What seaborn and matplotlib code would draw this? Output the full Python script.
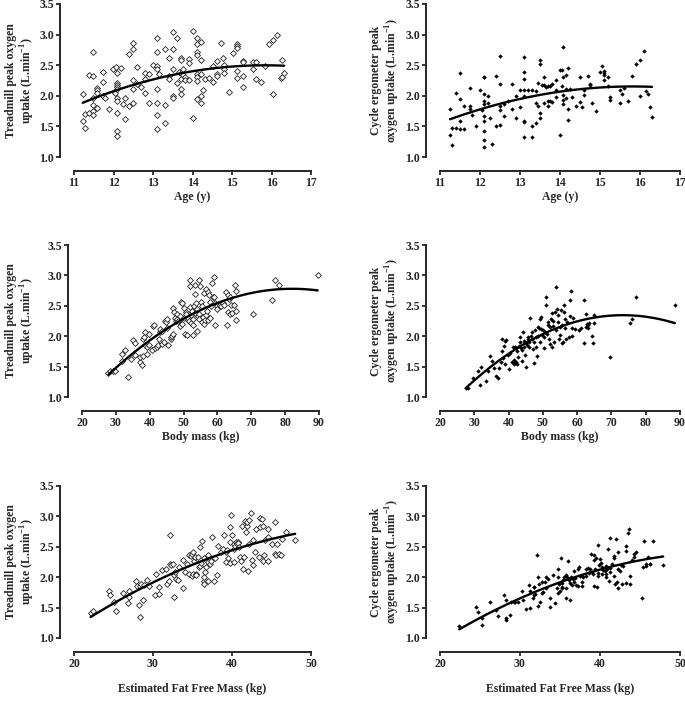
import matplotlib
matplotlib.use("Agg")
import matplotlib.pyplot as plt
import seaborn as sns

# ---- data ----
# Age vs treadmill peak VO2
age_tm = [11.22, 11.22, 11.27, 11.47, 11.37, 11.47, 11.47, 11.47, 11.27, 11.37,
          11.47, 11.47, 11.57, 11.57, 11.57, 11.57, 11.73, 11.73, 11.73, 11.78,
          11.88, 11.98, 12.03, 12.06, 12.08, 12.08, 12.08, 12.08, 12.08, 12.08,
          12.08, 12.08, 12.08, 12.08, 12.18, 12.23, 12.28, 12.28, 12.38, 12.38,
          12.49, 12.49, 12.49, 12.49, 12.49, 12.59, 12.59, 12.69, 12.79, 12.79,
          12.79, 12.89, 12.89, 12.99, 13.09, 13.09, 13.09, 13.09, 13.09, 13.09,
          13.09, 13.09, 13.14, 13.30, 13.30, 13.30, 13.40, 13.40, 13.40, 13.50,
          13.50, 13.50, 13.50, 13.50, 13.60, 13.60, 13.65, 13.70, 13.70, 13.70,
          13.70, 13.70, 13.70, 13.75, 13.75, 13.80, 13.80, 13.90, 13.90, 13.90,
          14.00, 14.00, 14.11, 14.11, 14.11, 14.11, 14.11, 14.11, 14.11, 14.11,
          14.21, 14.21, 14.21, 14.21, 14.21, 14.26, 14.31, 14.41, 14.51, 14.51,
          14.61, 14.61, 14.61, 14.71, 14.76, 14.81, 14.81, 14.81, 14.92, 15.02,
          15.12, 15.12, 15.12, 15.12, 15.12, 15.27, 15.27, 15.27, 15.27, 15.52,
          15.52, 15.62, 15.62, 15.73, 15.83, 15.93, 16.03, 16.03, 16.13, 16.23,
          16.27, 16.27, 16.32]
tm_age = [2.03, 1.59, 1.47, 2.71, 2.34, 2.33, 1.97, 1.85, 1.71, 1.72,
          1.75, 1.68, 1.80, 2.12, 2.09, 2.05, 2.39, 2.22, 1.99, 1.96,
          1.78, 2.43, 2.05, 2.47, 2.37, 2.21, 2.18, 2.14, 2.11, 1.97,
          1.92, 1.72, 1.42, 1.35, 2.46, 1.87, 1.97, 1.62, 2.68, 1.84,
          2.87, 2.76, 2.25, 2.11, 1.88, 2.47, 2.19, 2.14, 2.37, 2.27,
          2.05, 2.35, 1.88, 2.51, 2.95, 2.72, 2.49, 2.43, 2.11, 1.89,
          1.69, 1.46, 2.35, 2.76, 1.85, 1.56, 2.62, 2.33, 2.27, 3.04,
          2.76, 2.44, 1.99, 1.97, 2.94, 2.21, 2.39, 2.61, 2.59, 2.37,
          2.27, 2.11, 2.03, 2.43, 2.34, 2.30, 2.26, 2.60, 2.54, 2.25,
          3.06, 1.64, 2.95, 2.84, 2.71, 2.67, 2.36, 2.31, 2.24, 1.95,
          2.88, 2.58, 2.35, 1.99, 1.89, 2.09, 2.27, 2.29, 2.49, 2.22,
          2.57, 2.35, 2.33, 2.86, 2.62, 2.50, 2.43, 2.38, 2.07, 2.70,
          2.84, 2.81, 2.78, 2.41, 2.29, 2.57, 2.55, 2.33, 2.14, 2.55,
          2.43, 2.55, 2.27, 2.22, 2.49, 2.84, 2.91, 2.03, 2.99, 2.29,
          2.59, 2.30, 2.37]

# Age vs cycle ergometer peak VO2
age_cy = [11.25, 11.25, 11.30, 11.30, 11.40, 11.40, 11.50, 11.50, 11.50, 11.50,
          11.60, 11.60, 11.75, 11.75, 11.75, 11.80, 11.90, 12.00, 12.05, 12.10,
          12.10, 12.10, 12.10, 12.10, 12.10, 12.10, 12.10, 12.10, 12.10, 12.20,
          12.20, 12.25, 12.30, 12.40, 12.40, 12.50, 12.50, 12.50, 12.50, 12.50,
          12.60, 12.60, 12.70, 12.80, 12.80, 12.90, 12.90, 13.00, 13.00, 13.10,
          13.10, 13.10, 13.10, 13.10, 13.10, 13.10, 13.10, 13.20, 13.30, 13.30,
          13.30, 13.40, 13.40, 13.40, 13.45, 13.45, 13.50, 13.50, 13.50, 13.50,
          13.55, 13.60, 13.60, 13.60, 13.65, 13.70, 13.70, 13.70, 13.75, 13.75,
          13.80, 13.80, 13.90, 13.90, 13.90, 14.00, 14.00, 14.05, 14.05, 14.08,
          14.08, 14.08, 14.08, 14.08, 14.15, 14.15, 14.15, 14.20, 14.20, 14.20,
          14.25, 14.30, 14.40, 14.50, 14.50, 14.55, 14.60, 14.60, 14.70, 14.75,
          14.75, 14.80, 14.90, 15.00, 15.05, 15.10, 15.10, 15.10, 15.10, 15.20,
          15.20, 15.25, 15.25, 15.50, 15.50, 15.55, 15.60, 15.70, 15.80, 15.90,
          16.00, 16.00, 16.10, 16.15, 16.20, 16.25, 16.30]
cy_age = [1.78, 1.36, 1.47, 1.19, 2.05, 1.48, 2.38, 1.95, 1.59, 1.45,
          1.84, 1.45, 2.12, 1.83, 1.78, 1.69, 1.51, 2.09, 1.77, 2.31,
          2.30, 2.03, 1.92, 1.86, 1.67, 1.59, 1.43, 1.28, 1.17, 2.00,
          1.88, 1.63, 1.21, 2.32, 1.51, 2.65, 2.19, 1.83, 1.76, 1.52,
          1.86, 1.67, 1.92, 2.19, 1.79, 2.00, 1.63, 2.09, 1.81, 2.63,
          2.39, 2.28, 2.09, 2.00, 1.59, 1.58, 1.33, 2.10, 2.10, 1.51,
          1.32, 2.08, 1.89, 1.56, 2.21, 1.83, 1.72, 1.64, 2.58, 2.52,
          2.17, 2.30, 2.17, 1.89, 2.14, 2.16, 1.92, 1.84, 2.16, 1.92,
          2.20, 1.90, 2.26, 2.10, 1.98, 2.42, 1.36, 2.42, 2.16, 2.80,
          2.30, 2.01, 1.93, 1.86, 2.34, 2.11, 1.96, 2.45, 1.79, 1.61,
          2.11, 1.98, 1.83, 2.30, 1.90, 1.82, 2.10, 2.01, 2.32, 2.19,
          2.17, 1.88, 1.75, 2.39, 2.49, 2.41, 2.38, 2.34, 2.26, 2.30,
          2.16, 1.98, 1.93, 2.09, 1.89, 2.03, 2.13, 1.91, 2.33, 2.52,
          2.59, 2.00, 2.73, 2.08, 2.03, 1.81, 1.65]

# Body mass vs treadmill peak VO2
mass_tm = [27.8, 28.3, 29.1, 29.8, 31.7, 31.7, 32.7, 33.7, 34.4, 35.0,
           35.6, 35.8, 37.0, 37.2, 37.7, 37.9, 38.1, 38.3, 38.5, 38.7,
           39.1, 39.3, 39.7, 39.9, 40.6, 40.9, 41.3, 41.7, 42.1, 42.3,
           42.6, 42.9, 43.1, 43.5, 43.7, 44.1, 44.6, 44.9, 45.0, 45.2,
           45.5, 46.2, 46.4, 46.6, 46.8, 47.0, 47.2, 47.5, 47.8, 48.0,
           48.2, 48.5, 48.8, 49.0, 49.2, 49.4, 49.6, 50.0, 50.2, 50.4,
           50.6, 50.8, 51.0, 51.2, 51.4, 51.6, 51.8, 51.8, 52.0, 52.2,
           52.3, 52.5, 52.7, 52.9, 52.9, 53.1, 53.3, 53.5, 53.5, 53.7,
           53.9, 54.1, 54.3, 54.5, 54.7, 54.7, 54.9, 55.1, 55.3, 55.5,
           55.7, 55.9, 56.1, 56.3, 56.5, 56.7, 56.9, 57.1, 57.3, 57.5,
           57.7, 57.9, 58.1, 58.5, 58.7, 58.9, 59.1, 59.3, 59.4, 59.8,
           60.0, 60.8, 61.2, 61.6, 62.0, 62.6, 62.8, 63.0, 63.2, 63.4,
           63.6, 63.8, 64.0, 64.2, 64.8, 65.2, 65.4, 65.6, 65.6, 70.5,
           76.2, 77.0, 78.2, 89.6]
tm_mass = [1.39, 1.43, 1.43, 1.43, 1.70, 1.59, 1.77, 1.33, 1.62, 1.94,
           1.88, 1.69, 1.57, 1.65, 1.53, 1.68, 1.95, 1.98, 2.07, 1.86,
           1.70, 1.83, 2.04, 1.86, 1.77, 2.16, 2.19, 1.80, 1.83, 1.86,
           1.95, 2.07, 2.12, 2.08, 1.87, 1.91, 2.25, 2.23, 2.28, 2.13,
           1.86, 1.96, 1.99, 2.01, 2.04, 2.46, 2.40, 2.30, 2.25, 2.28,
           2.37, 2.25, 2.16, 2.34, 2.57, 2.20, 2.55, 2.46, 2.30, 2.04,
           2.40, 2.36, 2.02, 2.27, 2.30, 2.25, 2.48, 2.83, 2.93, 2.35,
           2.22, 2.42, 2.28, 2.18, 2.02, 2.50, 2.38, 2.70, 2.84, 2.55,
           2.08, 2.45, 2.34, 2.37, 2.93, 2.28, 2.83, 2.57, 2.24, 2.49,
           2.31, 2.71, 2.20, 2.27, 2.35, 2.77, 2.42, 2.26, 2.72, 2.67,
           2.30, 2.57, 2.50, 2.88, 2.64, 2.97, 2.65, 2.55, 2.19, 2.50,
           2.45, 2.52, 2.50, 2.54, 2.51, 2.73, 2.19, 2.67, 2.39, 2.62,
           2.37, 2.64, 2.51, 2.38, 2.52, 2.84, 2.42, 2.27, 2.74, 2.37,
           2.60, 2.92, 2.85, 3.01]

# Body mass vs cycle ergometer peak VO2
mass_cy = [27.5, 28.1, 29.6, 31.0, 31.8, 32.1, 33.5, 33.9, 34.7, 35.3,
           35.8, 36.4, 37.0, 37.2, 37.7, 38.0, 38.2, 38.4, 38.8, 39.0,
           39.1, 39.3, 39.7, 40.1, 40.5, 40.9, 41.3, 41.5, 41.7, 41.9,
           42.1, 42.3, 42.4, 42.6, 42.8, 43.0, 43.2, 43.4, 43.6, 43.8,
           44.0, 44.2, 44.4, 44.6, 44.8, 45.0, 45.2, 45.4, 45.6, 45.8,
           45.9, 46.1, 46.3, 46.5, 46.7, 46.9, 47.1, 47.3, 47.5, 47.7,
           47.9, 48.1, 48.3, 48.5, 48.7, 48.9, 49.1, 49.3, 49.4, 49.6,
           49.8, 50.0, 50.2, 50.4, 50.6, 50.8, 51.0, 51.2, 51.4, 51.6,
           51.8, 52.0, 52.2, 52.4, 52.6, 52.8, 52.9, 53.1, 53.3, 53.5,
           53.7, 53.9, 54.1, 54.3, 54.5, 54.7, 54.9, 55.1, 55.3, 55.5,
           55.7, 55.9, 56.1, 56.2, 56.4, 56.6, 56.8, 57.0, 57.6, 57.8,
           58.0, 58.2, 58.4, 58.6, 58.8, 59.4, 60.5, 61.1, 62.1, 62.1,
           62.5, 62.7, 62.9, 63.1, 63.2, 63.4, 64.4, 64.6, 64.8, 64.8,
           69.7, 75.5, 76.1, 77.2, 88.5]
cy_mass = [1.15, 1.15, 1.32, 1.43, 1.20, 1.50, 1.27, 1.43, 1.68, 1.59,
           1.47, 1.35, 1.32, 1.47, 1.57, 1.96, 1.75, 1.64, 1.84, 1.54,
           1.92, 1.93, 1.69, 1.46, 1.73, 1.58, 1.82, 1.54, 1.61, 1.83,
           1.81, 1.57, 1.55, 1.76, 1.66, 1.84, 1.90, 1.99, 1.80, 1.60,
           1.77, 2.07, 1.92, 1.82, 1.69, 1.50, 1.88, 1.86, 1.96, 1.98,
           1.90, 1.82, 2.30, 2.00, 2.07, 1.95, 1.79, 1.56, 1.91, 2.10,
           1.99, 1.83, 1.68, 2.01, 2.15, 2.13, 2.28, 1.91, 2.32, 2.12,
           2.02, 2.11, 1.80, 1.98, 2.07, 2.52, 2.64, 2.03, 2.24, 2.18,
           1.95, 1.87, 2.15, 2.29, 2.38, 1.82, 2.17, 2.25, 1.90, 2.39,
           2.10, 2.81, 2.45, 2.24, 2.35, 1.96, 2.15, 2.02, 2.43, 1.88,
           2.18, 1.90, 2.40, 2.51, 2.29, 2.13, 1.96, 2.24, 1.98, 2.59,
           2.33, 2.75, 2.00, 2.13, 2.30, 2.12, 2.11, 2.13, 1.88, 2.59,
           2.15, 2.37, 2.20, 2.14, 2.18, 2.22, 2.00, 1.88, 2.35, 2.21,
           1.65, 2.21, 2.29, 2.64, 2.52]

# Estimated fat free mass vs treadmill peak VO2
ffm_tm = [22.1, 22.4, 24.4, 24.6, 25.1, 25.3, 26.2, 26.8, 27.0, 27.0,
          27.9, 28.0, 28.2, 28.3, 28.4, 28.5, 28.7, 28.8, 29.3, 29.5,
          30.2, 30.4, 30.8, 30.8, 31.1, 31.6, 31.8, 32.0, 32.2, 32.2,
          32.3, 32.5, 32.7, 32.7, 32.8, 32.9, 33.2, 33.3, 33.8, 33.8,
          34.1, 34.3, 34.5, 34.6, 34.8, 34.9, 34.9, 35.0, 35.1, 35.2,
          35.3, 35.4, 35.5, 35.7, 35.8, 35.9, 36.0, 36.1, 36.2, 36.4,
          36.5, 36.5, 36.5, 36.6, 36.7, 36.9, 37.0, 37.0, 37.2, 37.3,
          37.5, 37.7, 37.8, 38.1, 38.2, 38.6, 38.9, 39.0, 39.2, 39.3,
          39.4, 39.5, 39.7, 39.8, 39.8, 39.9, 40.0, 40.2, 40.3, 40.3,
          40.4, 40.5, 40.6, 40.7, 40.8, 40.9, 41.0, 41.1, 41.3, 41.4,
          41.5, 41.7, 41.8, 41.9, 41.9, 42.0, 42.1, 42.2, 42.4, 42.5,
          42.6, 42.7, 42.9, 43.1, 43.4, 43.5, 43.6, 43.8, 43.9, 43.9,
          44.1, 44.2, 44.5, 44.6, 44.6, 45.1, 45.4, 45.5, 45.6, 45.7,
          45.9, 46.2, 46.3, 46.8, 48.0]
tm_ffm = [1.41, 1.45, 1.77, 1.71, 1.60, 1.45, 1.74, 1.58, 1.68, 1.77,
          1.94, 1.85, 1.54, 1.34, 1.86, 1.88, 1.62, 1.87, 1.96, 1.85,
          1.70, 2.06, 1.84, 1.72, 2.12, 2.14, 1.88, 1.94, 2.21, 2.70,
          2.20, 2.21, 1.68, 2.03, 2.09, 1.97, 1.95, 2.17, 2.29, 1.83,
          2.09, 2.21, 2.36, 2.06, 2.35, 2.02, 2.38, 2.05, 2.42, 2.27,
          2.33, 2.05, 2.03, 2.33, 2.17, 2.19, 2.49, 2.24, 2.59, 2.32,
          1.93, 1.88, 2.00, 2.09, 2.17, 1.94, 2.36, 2.25, 2.21, 2.27,
          2.66, 1.93, 2.32, 2.03, 2.51, 2.42, 2.47, 2.70, 2.41, 2.25,
          2.44, 2.32, 2.58, 2.82, 2.24, 3.02, 2.70, 2.47, 2.55, 2.25,
          2.51, 2.58, 2.55, 2.58, 2.56, 2.50, 2.34, 2.26, 2.85, 2.14,
          2.34, 2.93, 2.75, 2.84, 2.90, 2.10, 2.94, 2.55, 3.05, 2.29,
          2.61, 2.20, 2.41, 2.80, 2.33, 2.83, 2.98, 2.95, 2.84, 2.26,
          2.36, 2.61, 2.66, 2.27, 2.80, 2.54, 2.38, 2.90, 2.36, 2.54,
          2.38, 2.36, 2.63, 2.75, 2.61]

# Estimated fat free mass vs cycle ergometer peak VO2
ffm_cy = [22.4, 24.5, 24.8, 25.3, 25.3, 26.3, 27.0, 27.2, 28.0, 28.2,
          28.3, 28.3, 28.8, 28.9, 29.2, 29.4, 29.8, 30.3, 30.4, 30.7,
          31.1, 31.2, 31.3, 31.6, 31.7, 31.8, 31.8, 31.9, 32.1, 32.2,
          32.3, 32.4, 32.5, 32.7, 32.8, 32.9, 33.1, 33.2, 33.3, 33.5,
          33.8, 33.8, 34.1, 34.4, 34.6, 34.7, 34.8, 34.8, 34.9, 35.0,
          35.1, 35.2, 35.3, 35.3, 35.4, 35.5, 35.7, 35.8, 35.8, 35.9,
          36.0, 36.1, 36.3, 36.3, 36.4, 36.5, 36.6, 36.7, 36.8, 36.9,
          37.0, 37.2, 37.3, 37.4, 37.5, 37.7, 37.8, 37.8, 37.9, 38.2,
          38.3, 38.5, 38.6, 38.8, 38.9, 39.0, 39.1, 39.2, 39.3, 39.3,
          39.4, 39.5, 39.6, 39.7, 39.8, 39.8, 39.9, 40.0, 40.1, 40.2,
          40.3, 40.3, 40.4, 40.6, 40.7, 40.8, 40.8, 40.9, 41.0, 41.1,
          41.2, 41.3, 41.3, 41.5, 41.7, 41.8, 41.8, 41.9, 42.0, 42.1,
          42.2, 42.3, 42.3, 42.5, 42.6, 42.7, 42.9, 43.2, 43.3, 43.3,
          43.5, 43.6, 43.7, 43.8, 44.0, 44.2, 44.3, 44.5, 45.3, 45.4,
          45.5, 45.7, 45.8, 46.0, 46.2, 46.3, 46.6, 47.9]
cy_ffm = [1.19, 1.51, 1.42, 1.33, 1.22, 1.60, 1.46, 1.37, 1.70, 1.62,
          1.29, 1.33, 1.38, 1.59, 1.60, 1.59, 1.59, 1.77, 1.62, 1.48,
          1.87, 1.78, 1.49, 1.65, 1.84, 1.70, 1.84, 1.73, 2.37, 1.53,
          2.00, 1.88, 1.59, 1.74, 1.92, 1.75, 1.92, 2.01, 1.83, 1.97,
          1.51, 1.66, 2.04, 1.57, 1.82, 2.13, 1.74, 2.00, 1.89, 1.77,
          2.32, 1.84, 1.91, 1.83, 1.95, 2.01, 2.04, 1.66, 1.82, 2.01,
          2.27, 1.96, 1.63, 1.90, 2.01, 1.87, 1.97, 1.92, 2.10, 1.99,
          1.87, 1.85, 2.14, 2.16, 2.02, 1.92, 1.86, 2.02, 2.01, 2.02,
          2.14, 2.15, 2.07, 2.13, 2.38, 2.08, 2.05, 2.36, 2.28, 1.86,
          2.14, 2.32, 1.84, 2.07, 2.02, 2.53, 2.20, 2.30, 2.23, 2.16,
          2.05, 2.13, 2.12, 2.10, 2.01, 2.18, 2.05, 2.14, 2.47, 1.93,
          2.64, 2.08, 2.15, 2.22, 2.32, 2.35, 2.02, 1.88, 2.63, 1.92,
          2.42, 1.82, 2.14, 2.10, 2.20, 1.89, 2.18, 2.51, 1.90, 2.43,
          2.73, 2.80, 2.02, 1.89, 2.29, 2.34, 2.38, 2.41, 1.65, 2.16,
          2.59, 2.18, 2.21, 2.33, 2.21, 2.22, 2.59, 2.20]

age_ticks = [11, 12, 13, 14, 15, 16, 17]
mass_ticks = [20, 30, 40, 50, 60, 70, 80, 90]
ffm_ticks = [20, 30, 40, 50]
vo2_ticks = [1.0, 1.5, 2.0, 2.5, 3.0, 3.5]

tm_label = "Treadmill peak oxygen\nuptake (L.min$^{\\mathbf{-1}}$)"
cy_label = "Cycle ergometer peak\noxygen uptake (L.min$^{\\mathbf{-1}}$)"

sns.set_style("ticks")
plt.rcParams['font.family'] = ['Liberation Serif', 'DejaVu Serif']
plt.rcParams['font.weight'] = 'bold'
plt.rcParams['mathtext.fontset'] = 'custom'
plt.rcParams['mathtext.rm'] = 'Liberation Serif:bold'
plt.rcParams['mathtext.bf'] = 'Liberation Serif:bold'

W, H = 685, 719
fig = plt.figure(figsize=(W / 100, H / 100), dpi=100)

# pixel boxes of the plotting area: (left, right) and (top, bottom), plus x label pad
rows = [(4, 157, 1.5), (245, 397, 1.5), (486, 638, 9)]
panels = [
    (age_tm, tm_age, (74, 311), rows[0], age_ticks, "Age (y)", tm_label, False),
    (age_cy, cy_age, (440, 680), rows[0], age_ticks, "Age (y)", cy_label, True),
    (mass_tm, tm_mass, (82, 319), rows[1], mass_ticks, "Body mass (kg)", tm_label, False),
    (mass_cy, cy_mass, (440, 680), rows[1], mass_ticks, "Body mass (kg)", cy_label, True),
    (ffm_tm, tm_ffm, (74, 311), rows[2], ffm_ticks, "Estimated Fat Free Mass (kg)", tm_label, False),
    (ffm_cy, cy_ffm, (440, 680), rows[2], ffm_ticks, "Estimated Fat Free Mass (kg)", cy_label, True),
]

for x, y, (x0, x1), (y0, y1, lpad), xticks, xlab, ylab, filled in panels:
    ax = fig.add_axes([x0 / W, 1 - y1 / H, (x1 - x0) / W, (y1 - y0) / H])
    if filled:
        sns.scatterplot(x=x, y=y, ax=ax, marker='D', s=5, color='black',
                        linewidth=0, clip_on=False)
    else:
        sns.scatterplot(x=x, y=y, ax=ax, marker='D', s=9, facecolor='white',
                        edgecolor='#222222', linewidth=0.6, clip_on=False)
    # quadratic fit
    sns.regplot(x=x, y=y, ax=ax, order=2, scatter=False, ci=None,
                color='black', line_kws={'lw': 1.7})
    ax.set_xlim(xticks[0], xticks[-1])
    ax.set_ylim(1.0, 3.5)
    ax.set_xticks(xticks)
    ax.set_yticks(vo2_ticks)
    ax.set_xlabel(xlab, fontsize=8.5, fontweight='bold', labelpad=lpad)
    ax.set_ylabel("")
    ax.tick_params(labelsize=8.5, length=3, width=1.3, direction='out', pad=1.5)
    sns.despine(ax=ax, offset=10)
    for s in ['left', 'bottom']:
        ax.spines[s].set_linewidth(1.4)
    xc = 21 if not filled else 386
    fig.text(xc / W, 1 - (y0 + y1) / 2 / H, ylab, rotation=90, ha='center',
             va='center', multialignment='center', fontsize=8.5, fontweight='bold')

fig.savefig("out.png", dpi=100)
